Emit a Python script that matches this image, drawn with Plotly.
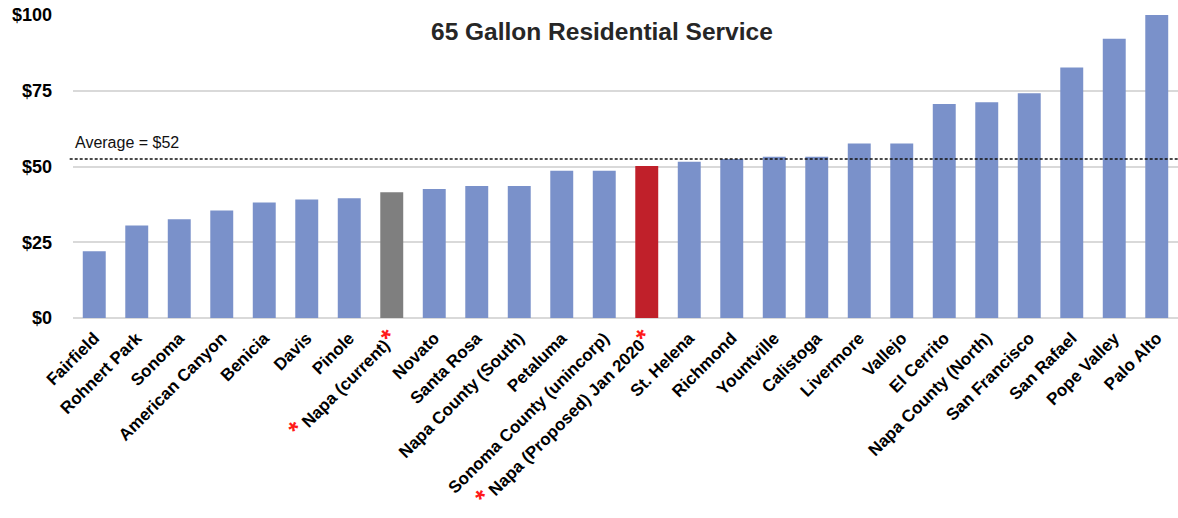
import plotly.graph_objects as go

cities = ["Fairfield", "Rohnert Park", "Sonoma", "American Canyon", "Benicia", "Davis",
          "Pinole", "Napa (current)", "Novato", "Santa Rosa", "Napa County (South)",
          "Petaluma", "Sonoma County (unincorp)", "Napa (Proposed) Jan 2020", "St. Helena",
          "Richmond", "Yountville", "Calistoga", "Livermore", "Vallejo", "El Cerrito",
          "Napa County (North)", "San Francisco", "San Rafael", "Pope Valley", "Palo Alto"]
rates = [22.0, 30.5, 32.6, 35.5, 38.1, 39.1, 39.5, 41.5, 42.6, 43.6, 43.6, 48.6, 48.6,
         50.2, 51.6, 52.5, 53.2, 53.2, 57.6, 57.6, 70.6, 71.2, 74.2, 82.7, 92.2, 100.0]
highlight = {"Napa (current)": "#7F7F7F", "Napa (Proposed) Jan 2020": "#C0202A"}
starred = ["Napa (current)", "Napa (Proposed) Jan 2020"]
average_value = 52.5
average_label = "Average = $52"
y_ticks = [0, 25, 50, 75, 100]
y_tick_labels = ["$0", "$25", "$50", "$75", "$100"]
title_text = "65 Gallon Residential Service"

BLUE = "#7A91CA"
colors = [highlight.get(c, BLUE) for c in cities]
star = '<span style="color:#FF1A1A;font-size:25px">*</span>'
tick_text = [(star + " " + c + star) if c in starred else c for c in cities]

fig = go.Figure()
fig.add_trace(go.Bar(x=cities, y=rates, marker=dict(color=colors, line=dict(width=0)),
                     width=0.54, hoverinfo="x+y"))

fig.add_shape(type="line", xref="paper", yref="y", x0=-0.003, x1=1,
              y0=average_value, y1=average_value,
              line=dict(color="#111111", width=1.4, dash="3px,2px"))
fig.add_annotation(text=average_label, xref="paper", yref="y", x=0.0, y=58,
                   xanchor="left", yanchor="middle", showarrow=False,
                   font=dict(family="Liberation Sans", size=16, color="#111111"))
fig.add_annotation(text="<b>" + title_text + "</b>", xref="paper", yref="paper",
                   x=0.479, y=0.947, xanchor="center", yanchor="middle", showarrow=False,
                   font=dict(family="Liberation Sans", size=24.5, color="#262626"))

fig.update_layout(
    width=1178, height=518,
    margin=dict(l=73, r=0, t=15, b=200, autoexpand=False),
    paper_bgcolor="white", plot_bgcolor="white",
    showlegend=False, bargap=0.46,
    font=dict(family="Liberation Sans", color="#000000"),
)
fig.update_xaxes(tickmode="array", tickvals=cities, ticktext=tick_text, tickangle=-45,
                 tickfont=dict(family="Liberation Sans", size=17, color="#000000", weight="bold"),
                 showgrid=False, showline=False, ticks="", zeroline=False, automargin=False,
                 ticklabelstandoff=6)
fig.update_yaxes(range=[0, 100], tickmode="array", tickvals=y_ticks, ticktext=y_tick_labels,
                 tickfont=dict(family="Liberation Sans", size=18, color="#000000", weight="bold"),
                 showgrid=True, gridcolor="#D9D9D9", gridwidth=1.5, zeroline=True,
                 zerolinecolor="#D9D9D9", zerolinewidth=1.5, showline=False, ticks="",
                 ticklabelstandoff=20, automargin=False)

# remove the browser's default 8px body margin so the figure fills the window
fig.write_html("out.html", config={"displayModeBar": False},
               post_script="document.body.style.margin='0';")
